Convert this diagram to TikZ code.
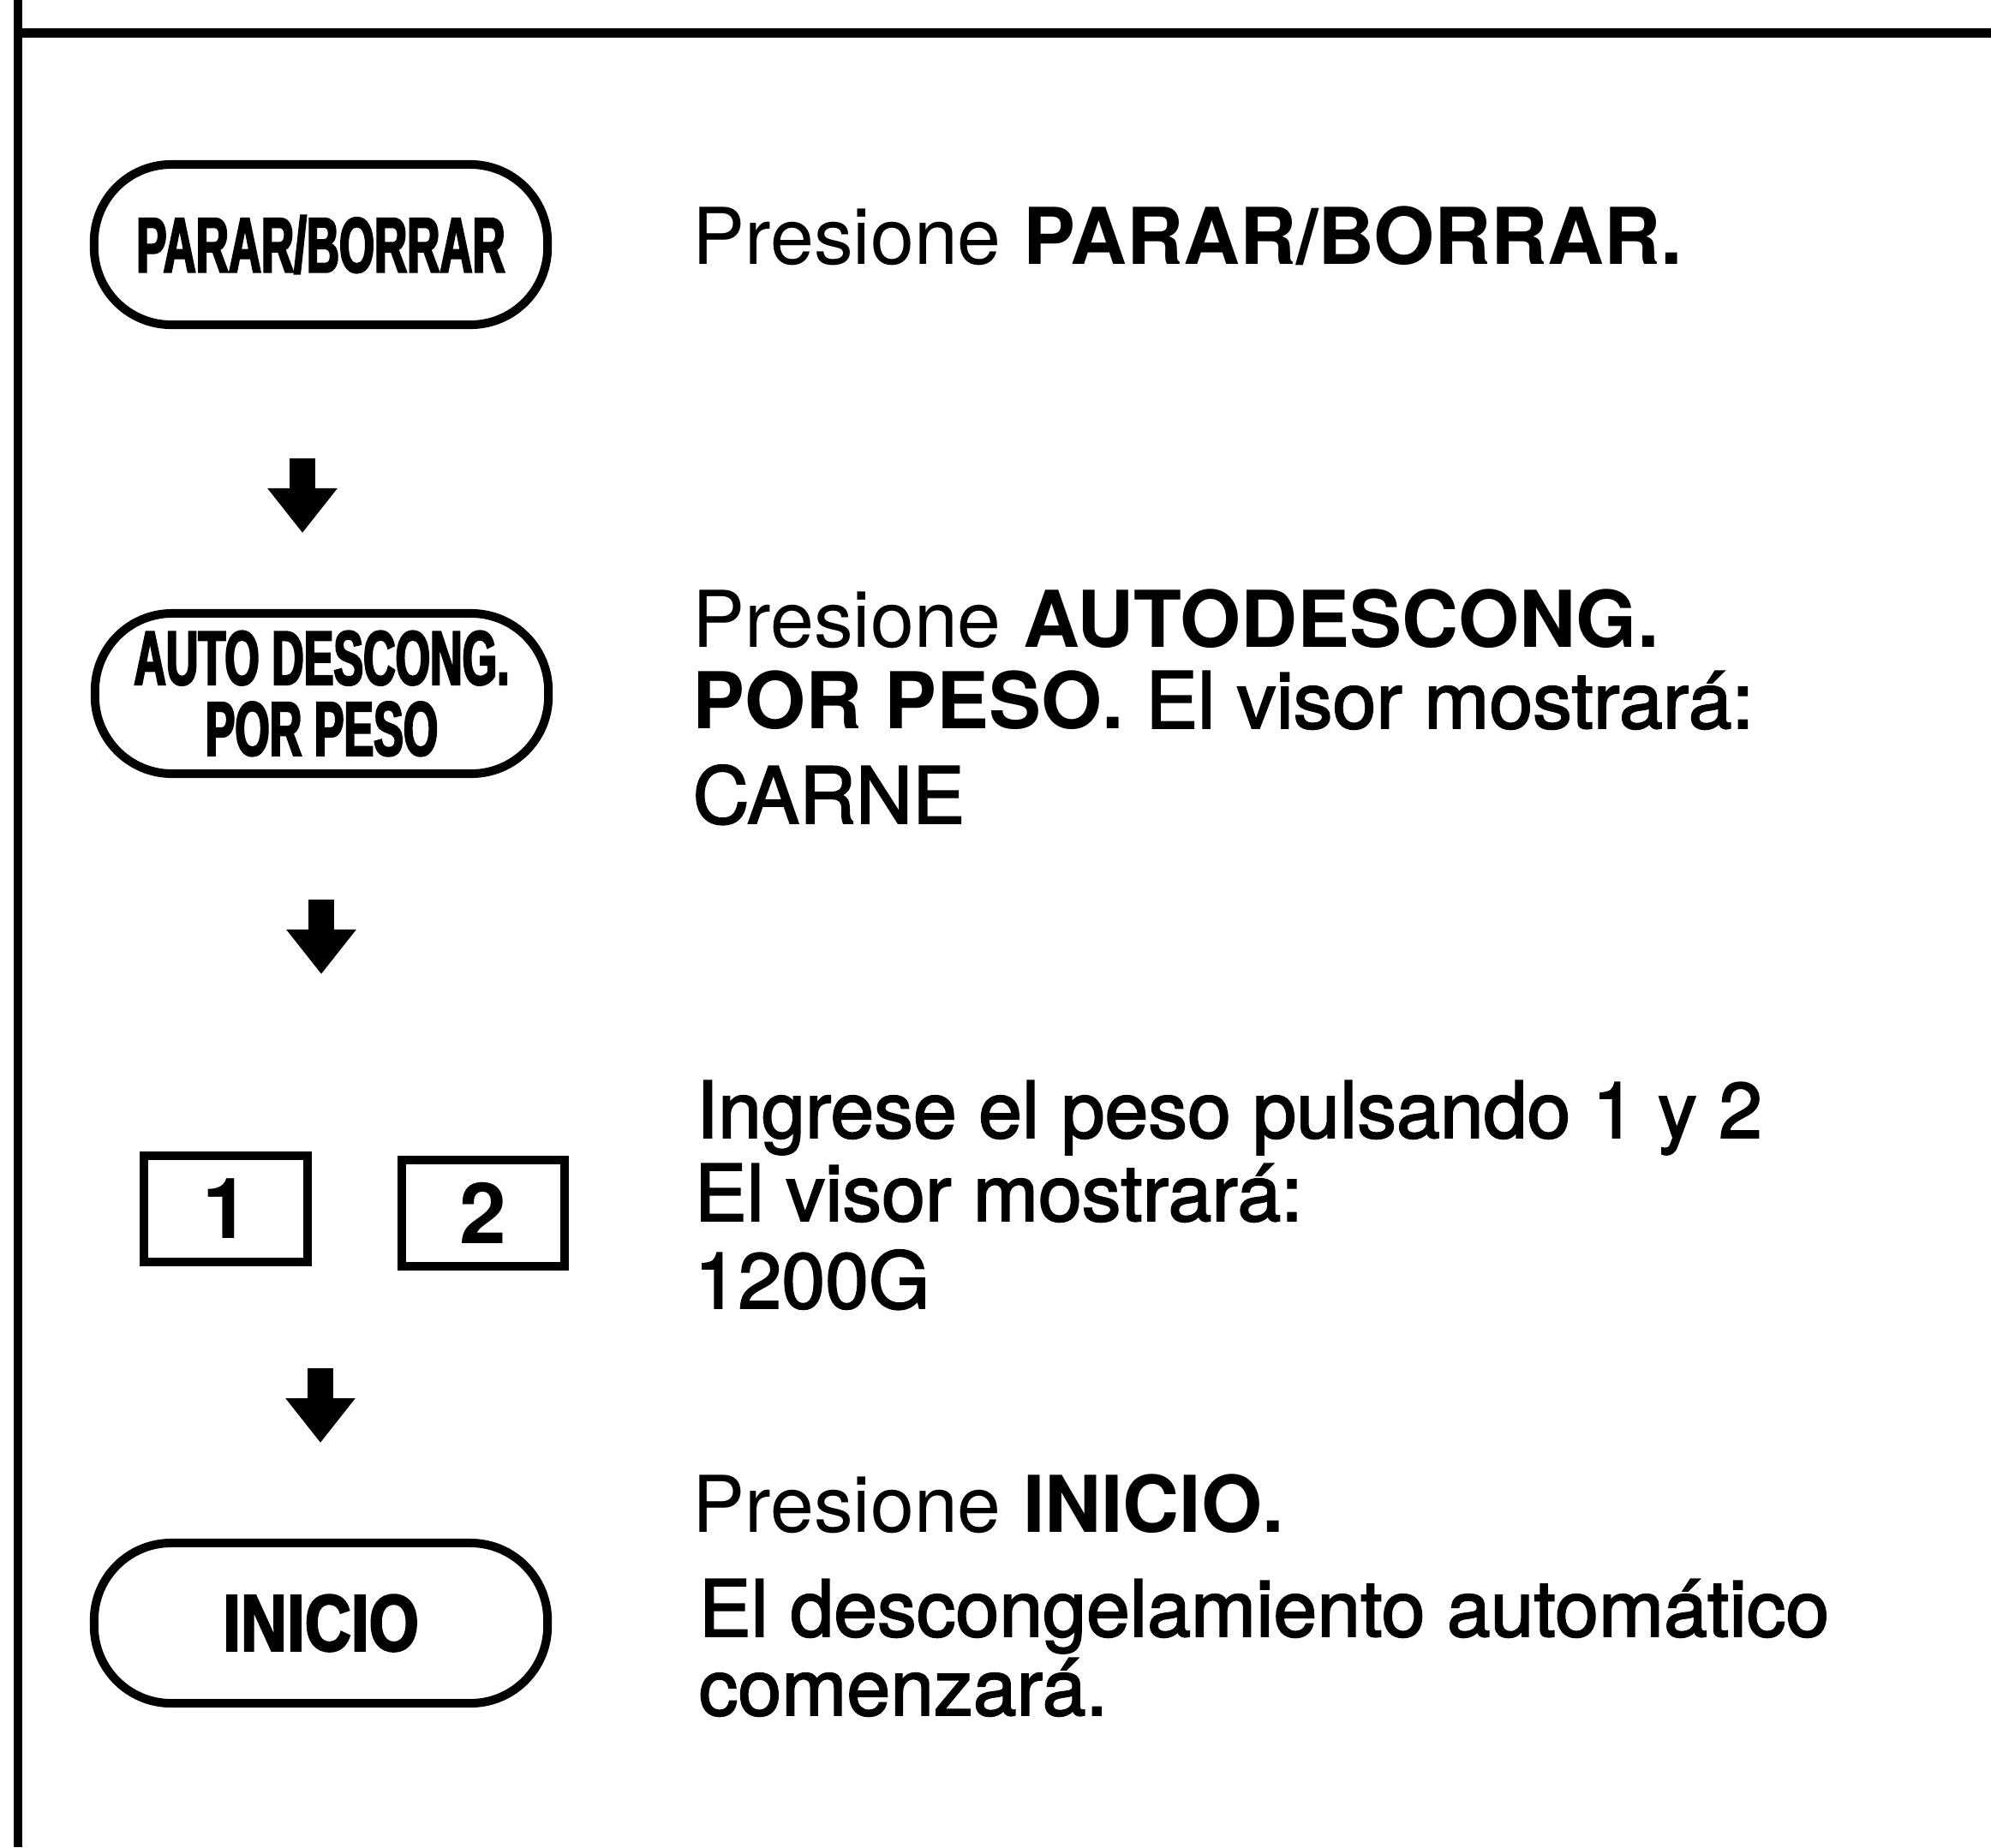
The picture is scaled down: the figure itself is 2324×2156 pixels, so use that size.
\documentclass[tikz,border=0pt]{standalone}
\usepackage{fontspec}
\setmainfont{TeX Gyre Heros}
\newfontfamily\stepfont{TeX Gyre Heros}
\newfontfamily\stepmedfont{TeX Gyre Heros}[FakeBold=2]
\newfontfamily\keyfont{Liberation Sans}[FakeStretch=0.58,FakeBold=2.5]
\newfontfamily\keywidefont{Liberation Sans}[FakeStretch=0.8,FakeBold=2.5]
\usetikzlibrary{positioning,arrows.meta}

\tikzset{
    keybutton/.style={draw, line width=2.85pt, rounded corners=0.9cm, minimum width=5.29cm, minimum height=1.87cm, inner sep=0pt, align=center},
    keysquare/.style={draw, line width=2.85pt, minimum width=1.9cm, minimum height=1.24cm, inner sep=0pt, font=\bfseries\fontsize{28}{28}\selectfont},
    steptext/.style={anchor=base west, inner sep=0pt, font=\stepfont\fontsize{26}{26}\selectfont},
    stepmed/.style={anchor=base west, inner sep=0pt, font=\stepmedfont\fontsize{26}{26}\selectfont},
    flowarrow/.style={line width=0.29cm, -{Triangle[length=0.52cm, width=0.78cm]}},
}

\begin{document}
\begin{tikzpicture}[x=0.01cm, y=-0.01cm]
                \useasboundingbox (0,0) rectangle (2324,2156);

                % frame
                \draw[line width=0.09cm] (21,0) -- (21,2156);
                \draw[line width=0.11cm] (21,38) -- (2324,38);

                % keys
                \node[keybutton, font=\keyfont\bfseries\fontsize{25.9}{25.9}\selectfont] (parar) at (374.5,285.5) {PARAR/BORRAR};
                \node[keybutton, font=\keyfont\bfseries\fontsize{25.5}{23.5}\selectfont] (auto) at (375.5,809.5) {AUTO DESCONG.\\POR PESO};
                \node[keysquare] (one) at (263.5,1411) {1};
                \node[keysquare, right=1cm of one, yshift=-0.05cm] (two) {2};
                \node[keybutton, font=\keywidefont\bfseries\fontsize{26.6}{26.6}\selectfont] (inicio) at (374.5,1894.5) {INICIO};

                % arrows
                \coordinate (a1s) at (353,535);
                \coordinate (a1e) at (353,622);
                \coordinate (a2s) at (375,1050);
                \coordinate (a2e) at (375,1137);
                \coordinate (a3s) at (374,1597);
                \coordinate (a3e) at (374,1684);
                \draw[flowarrow] (a1s) -- (a1e);
                \draw[flowarrow] (a2s) -- (a2e);
                \draw[flowarrow] (a3s) -- (a3e);

                % steps
                \node[steptext] (stepa) at (808,308) {Presione \textbf{PARAR/BORRAR.}};
                \node[steptext] (stepb1) at (808,755) {Presione \textbf{AUTODESCONG.}};
                \node[steptext] (stepb2) at (808,850) {\textbf{POR PESO.} {\stepmedfont El visor mostrará:}};
                \node[stepmed] (stepb3) at (808,961) {CARNE};
                \node[stepmed] (stepc1) at (812,1328) {Ingrese el peso pulsando 1 y 2};
                \node[stepmed] (stepc2) at (810,1425) {El visor mostrará:};
                \node[stepmed] (stepc3) at (810,1527) {1200G};
                \node[steptext] (stepd1) at (808,1788) {Presione \textbf{INICIO.}};
                \node[stepmed] (stepd2) at (815,1910) {El descongelamiento automático};
                \node[stepmed] (stepd3) at (815,2002) {comenzará.};
\end{tikzpicture}
\end{document}
